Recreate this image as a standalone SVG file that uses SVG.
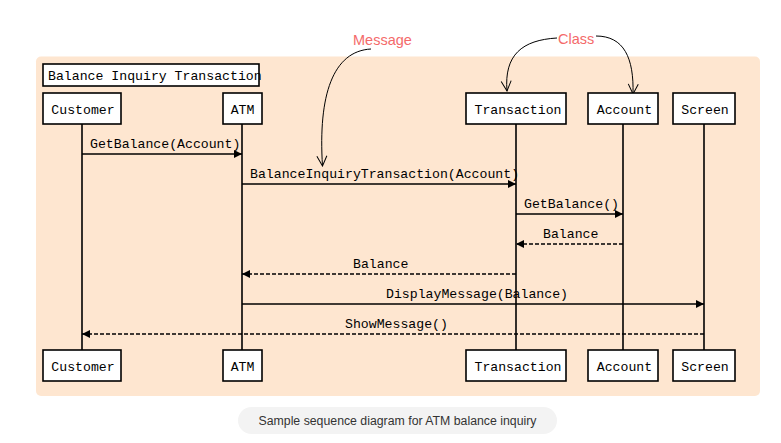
<svg xmlns="http://www.w3.org/2000/svg" width="781" height="443" viewBox="0 0 781 443">
<defs>
<style>
.box{fill:#fff;stroke:#000;stroke-width:1.6}
.lbl{font-family:"Liberation Mono","Courier New",monospace;font-size:13.2px;fill:#000}
.life{stroke:#000;stroke-width:1.6;fill:none}
.msg{stroke:#000;stroke-width:1.4;fill:none}
.ret{stroke:#000;stroke-width:1.4;fill:none;stroke-dasharray:4 2}
.note{font-family:"Liberation Sans",Arial,sans-serif;font-size:14.5px;fill:#f46a6a}
.curve{stroke:#000;stroke-width:1;fill:none}
</style>
<marker id="fa" viewBox="0 0 10 10" refX="10" refY="5" markerWidth="8" markerHeight="8" markerUnits="userSpaceOnUse" orient="auto">
<path d="M0,0 L10,5 L0,10 z" fill="#000"/>
</marker>
<marker id="va" viewBox="0 0 12 12" refX="11" refY="6" markerWidth="12" markerHeight="12" markerUnits="userSpaceOnUse" orient="auto">
<path d="M1,1 L11,6 L1,11" fill="none" stroke="#000" stroke-width="1"/>
</marker>
</defs>
<rect x="0" y="0" width="781" height="443" fill="#fff"/>
<rect x="36" y="56.5" width="724" height="339.5" rx="5" fill="#fee6d0"/>

<g id="title">
<rect class="box" x="43" y="64" width="216" height="22"/>
<text class="lbl" x="48" y="79.5">Balance Inquiry Transaction</text>
</g>

<g id="connectors">
<line class="life" x1="82" y1="124" x2="82" y2="350"/>
<line class="life" x1="242" y1="124" x2="242" y2="350"/>
<line class="life" x1="516" y1="124" x2="516" y2="350"/>
<line class="life" x1="623" y1="124" x2="623" y2="350"/>
<line class="life" x1="704" y1="124" x2="704" y2="350"/>

<line class="msg" x1="82" y1="154" x2="242" y2="154" marker-end="url(#fa)"/>
<line class="msg" x1="242" y1="184" x2="516" y2="184" marker-end="url(#fa)"/>
<line class="msg" x1="516" y1="214" x2="623" y2="214" marker-end="url(#fa)"/>
<line class="ret" x1="623" y1="244" x2="516" y2="244" marker-end="url(#fa)"/>
<line class="ret" x1="516" y1="274" x2="242" y2="274" marker-end="url(#fa)"/>
<line class="msg" x1="242" y1="304" x2="704" y2="304" marker-end="url(#fa)"/>
<line class="ret" x1="704" y1="334" x2="82" y2="334" marker-end="url(#fa)"/>

<path class="curve" d="M371,49 C333,51 318,95 322.5,166" marker-end="url(#va)"/>
<path class="curve" d="M557,38 C522,40 504,55 507,91" marker-end="url(#va)"/>
<path class="curve" d="M596,36 C624,36 634,58 633,94" marker-end="url(#va)"/>
</g>

<g id="msglabels">
<text class="lbl" x="90" y="148">GetBalance(Account)</text>
<text class="lbl" x="250" y="178">BalanceInquiryTransaction(Account)</text>
<text class="lbl" x="524" y="208">GetBalance()</text>
<text class="lbl" x="543" y="238">Balance</text>
<text class="lbl" x="353" y="268">Balance</text>
<text class="lbl" x="386" y="298">DisplayMessage(Balance)</text>
<text class="lbl" x="345" y="328">ShowMessage()</text>
</g>

<g id="customer-top"><rect class="box" x="43" y="93" width="78" height="31"/><text class="lbl" x="83" y="113.5" text-anchor="middle">Customer</text></g>
<g id="atm-top"><rect class="box" x="223" y="93" width="39" height="31"/><text class="lbl" x="242.5" y="113.5" text-anchor="middle">ATM</text></g>
<g id="transaction-top"><rect class="box" x="466" y="93" width="100" height="31"/><text class="lbl" x="518" y="113.5" text-anchor="middle">Transaction</text></g>
<g id="account-top"><rect class="box" x="588" y="93" width="70" height="31"/><text class="lbl" x="624.5" y="113.5" text-anchor="middle">Account</text></g>
<g id="screen-top"><rect class="box" x="673" y="93" width="62" height="31"/><text class="lbl" x="705" y="113.5" text-anchor="middle">Screen</text></g>

<g id="customer-bottom"><rect class="box" x="43" y="350" width="78" height="31"/><text class="lbl" x="83" y="370.5" text-anchor="middle">Customer</text></g>
<g id="atm-bottom"><rect class="box" x="223" y="350" width="39" height="31"/><text class="lbl" x="242.5" y="370.5" text-anchor="middle">ATM</text></g>
<g id="transaction-bottom"><rect class="box" x="466" y="350" width="100" height="31"/><text class="lbl" x="518" y="370.5" text-anchor="middle">Transaction</text></g>
<g id="account-bottom"><rect class="box" x="588" y="350" width="70" height="31"/><text class="lbl" x="624.5" y="370.5" text-anchor="middle">Account</text></g>
<g id="screen-bottom"><rect class="box" x="673" y="350" width="62" height="31"/><text class="lbl" x="705" y="370.5" text-anchor="middle">Screen</text></g>

<g id="notes">
<text class="note" x="353" y="44.5">Message</text>
<text class="note" x="558" y="44">Class</text>
</g>

<g id="caption">
<rect x="238" y="407" width="319" height="27" rx="13.5" fill="#f3f3f3"/>
<text x="397.5" y="425" text-anchor="middle" font-family="'Liberation Sans',Arial,sans-serif" font-size="12.3" fill="#333">Sample sequence diagram for ATM balance inquiry</text>
</g>
</svg>
